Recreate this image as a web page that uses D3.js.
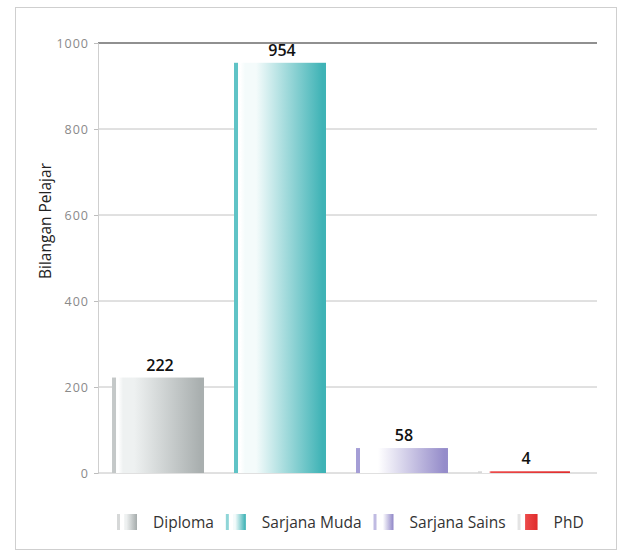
<!DOCTYPE html>
<html><head><meta charset="utf-8">
<script src="https://cdn.jsdelivr.net/npm/d3@7"></script>
<style>
body{margin:0;background:#fff;}
svg{display:block;font-family:"Open Sans",sans-serif;}
</style></head>
<body><svg id="c" width="626" height="555"></svg>
<script>
const categories = ["Diploma","Sarjana Muda","Sarjana Sains","PhD"];
const values = [222, 954, 58, 4];
const yTicks = [0, 200, 400, 600, 800, 1000];
const yTitle = "Bilangan Pelajar";
const palettes = [
  {edge:"#c4c8c8", light:"#eef1f1", dark:"#a9afaf"},
  {edge:"#5fc3c6", light:"#f4fbfb", dark:"#3fb3b6"},
  {edge:"#a59ed6", light:"#ffffff", dark:"#958cca"},
  {edge:"#d8d8d8", light:"#ec4a4a", dark:"#e02c2c"}
];

const svg = d3.select("#c");
svg.append("rect").attr("x",15.5).attr("y",7.5).attr("width",601).attr("height",542)
  .attr("fill","#fff").attr("stroke","#cfcfcf");

const x = d3.scaleBand().domain(categories).range([98,584]).paddingInner(0.246).paddingOuter(0.115);
const y = d3.scaleLinear().domain([0,1000]).range([473,43]);

const defs = svg.append("defs");
palettes.forEach((p,i)=>{
  const g = defs.append("linearGradient").attr("id","g"+i).attr("x1","0").attr("x2","1").attr("y1","0").attr("y2","0");
  const stops = i===3 ? [[0,"#ffffff"],[0.12,"#ffffff"],[0.14,p.light],[1,p.dark]]
    : [[0,"#ffffff"],[0.07,"#ffffff"],[0.12,p.light],[0.24,p.light],[0.96,p.dark],[1,p.dark]];
  stops.forEach(s=>g.append("stop").attr("offset",s[0]).attr("stop-color",s[1]));
});

// gridlines
svg.append("g").selectAll("line").data(yTicks.filter(d=>d>0)).join("line")
  .attr("x1",98).attr("x2",597).attr("y1",d=>y(d)).attr("y2",d=>y(d))
  .attr("stroke",d=>d===1000?"#222":"#c2c2c2").attr("stroke-width",d=>d===1000?1.2:1);

// y axis
const ya = svg.append("g").attr("transform","translate(98,0)")
  .call(d3.axisLeft(y).tickValues(yTicks).tickSize(4).tickPadding(5).tickFormat(d3.format("d")));
ya.select(".domain").attr("stroke","#cfcfcf");
ya.selectAll(".tick line").attr("stroke","#bdbdbd");
ya.selectAll(".tick text").attr("fill","#8a8a8a").style("font-size","12.5px").style("letter-spacing","1px")
  .style("font-family","'Open Sans',sans-serif");

// baseline
svg.append("line").attr("x1",98).attr("x2",597).attr("y1",y(0)).attr("y2",y(0)).attr("stroke","#c2c2c2");

// bars
const bars = svg.append("g").selectAll("g").data(categories).join("g");
bars.append("rect")
  .attr("x",d=>x(d)).attr("width",x.bandwidth())
  .attr("y",(d,i)=>y(values[i])).attr("height",(d,i)=>y(0)-y(values[i]))
  .attr("fill",(d,i)=>"url(#g"+i+")");
bars.append("rect")
  .attr("x",d=>x(d)).attr("width",4)
  .attr("y",(d,i)=>y(values[i])).attr("height",(d,i)=>y(0)-y(values[i]))
  .attr("fill",(d,i)=>palettes[i].edge);

// value labels
bars.append("text")
  .attr("x",d=>x(d)+x.bandwidth()/2+2).attr("y",(d,i)=>y(values[i])-7)
  .attr("text-anchor","middle").attr("fill","#111")
  .style("font-size","16px").style("font-weight","600")
  .text((d,i)=>values[i]);

// y title
svg.append("text").attr("transform","translate(51,221) rotate(-90)")
  .attr("text-anchor","middle").attr("fill","#222").style("font-size","15.5px")
  .text(yTitle);

// legend
const leg = svg.append("g").attr("transform","translate(117,522)");
let lx = 0;
categories.forEach((c,i)=>{
  const it = leg.append("g").attr("transform",`translate(${lx},0)`);
  it.append("rect").attr("x",0).attr("y",-8).attr("width",3).attr("height",16).attr("fill",palettes[i].edge).attr("opacity",0.7);
  it.append("rect").attr("x",6).attr("y",-8).attr("width",14).attr("height",16).attr("fill","url(#g"+i+")");
  const t = it.append("text").attr("x",36).attr("y",5.5).attr("fill","#333").style("font-size","15.5px").text(c);
  lx += 36 + t.node().getComputedTextLength() + 12;
});
</script></body></html>
